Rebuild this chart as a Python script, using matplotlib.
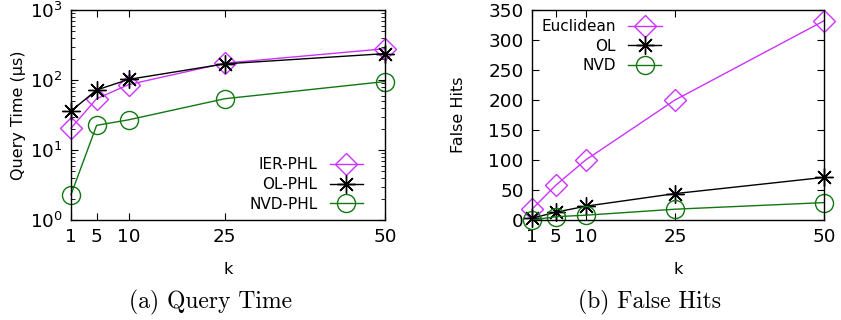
import matplotlib
matplotlib.use("Agg")
import matplotlib.pyplot as plt
from matplotlib.ticker import LogLocator, NullFormatter

# ===== data =====
k_values = [1, 5, 10, 25, 50]

# (a) query time, microseconds
ier_phl = [20.5, 54, 86, 174, 280]
ol_phl = [36, 72, 102, 170, 238]
nvd_phl = [2.3, 22.5, 27, 54, 95]

# (b) false hits
euclidean_hits = [18, 58, 100, 200, 332]
ol_hits = [3, 13, 23, 44, 71]
nvd_hits = [0, 5.5, 8, 18, 29]

C_MAG = "#cc33ff"
C_BLK = "black"
C_GRN = "#117711"
STAR = (8, 2, 0)

plt.rcParams["font.family"] = ["DejaVu Sans"]
plt.rcParams["xtick.direction"] = "in"
plt.rcParams["ytick.direction"] = "in"
plt.rcParams["xtick.top"] = True
plt.rcParams["ytick.right"] = True

fig = plt.figure(figsize=(8.41, 3.2), dpi=100)
ax1 = fig.add_axes([71 / 841, 100 / 320, 314 / 841, 210 / 320])
ax2 = fig.add_axes([532 / 841, 100 / 320, 292 / 841, 210 / 320])

mk = dict(markersize=13, markerfacecolor="none", linewidth=1.0, markeredgewidth=1.0)

# ---- (a) Query Time ----
ax1.plot(k_values, ier_phl, color=C_MAG, marker="D", label="IER-PHL", **{**mk, "markersize": 11})
ax1.plot(k_values, ol_phl, color=C_BLK, marker=STAR, label="OL-PHL", **mk)
ax1.plot(k_values, nvd_phl, color=C_GRN, marker="o", label="NVD-PHL", **mk)
ax1.set_yscale("log")
ax1.set_ylim(1, 1000)
ax1.yaxis.set_minor_locator(LogLocator(base=10, subs=range(2, 10)))
ax1.yaxis.set_minor_formatter(NullFormatter())
ax1.set_ylabel("Query Time (µs)", fontsize=11.5, labelpad=3)
ax1.legend(loc="lower right", markerfirst=False, frameon=False, fontsize=11,
           handlelength=2.2, labelspacing=0.32, borderaxespad=0.0,
           bbox_to_anchor=(0.95, 0.01))

# ---- (b) False Hits ----
ax2.plot(k_values, euclidean_hits, color=C_MAG, marker="D", label="Euclidean", **{**mk, "markersize": 11})
ax2.plot(k_values, ol_hits, color=C_BLK, marker=STAR, label="OL", **mk)
ax2.plot(k_values, nvd_hits, color=C_GRN, marker="o", label="NVD", **mk)
ax2.set_ylim(0, 350)
ax2.set_yticks(range(0, 351, 50))
ax2.set_ylabel("False Hits", fontsize=11.5, labelpad=16)
ax2.legend(loc="upper left", markerfirst=False, frameon=False, fontsize=11,
           handlelength=2.2, labelspacing=0.3, borderaxespad=0.2)

for ax in (ax1, ax2):
    ax.set_xlim(1, 50)
    ax.set_xticks(k_values)
    ax.set_xticklabels([str(k) for k in k_values])
    ax.set_xlabel("k", fontsize=11.5, labelpad=11)
    ax.tick_params(labelsize=13.2, length=5, width=0.8)
    ax.tick_params(axis="y", pad=6)
    ax.tick_params(axis="x", pad=6)
    ax.tick_params(which="minor", length=3, width=0.6)
    for s in ax.spines.values():
        s.set_linewidth(1.0)
    for ln in ax.get_lines():
        ln.set_clip_on(False)

fig.text(211 / 841, 1 - 302 / 320, "(a) Query Time", ha="center", va="center",
         fontsize=17, family="cmr10")
fig.text(649 / 841, 1 - 302 / 320, "(b) False Hits", ha="center", va="center",
         fontsize=17, family="cmr10")

fig.savefig("out.png", dpi=100)
